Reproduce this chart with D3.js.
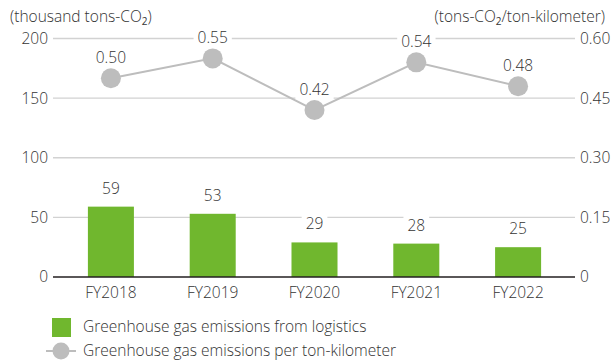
<!DOCTYPE html>
<html>
<head>
<meta charset="utf-8">
<script src="https://cdn.jsdelivr.net/npm/d3@7"></script>
<style>
  html, body { margin: 0; padding: 0; background: #fff; }
  svg { display: block; }
  text { font-family: "Open Sans", "Noto Sans", sans-serif; font-weight: 300; fill: #333; }
</style>
</head>
<body>
<svg id="chart" width="611" height="361"></svg>
<script>
// Fiscal years and the two series
const years = ["FY2018", "FY2019", "FY2020", "FY2021", "FY2022"];
const emissions = [59, 53, 29, 28, 25];            // thousand tons-CO2
const perTonKm = [0.50, 0.55, 0.42, 0.54, 0.48];    // tons-CO2 / ton-kilometer
const leftTicks = [0, 50, 100, 150, 200];
const rightTicks = [0, 0.15, 0.30, 0.45, 0.60];
const rightTickLabels = ["0", "0.15", "0.30", "0.45", "0.60"];
const legendLabels = ["Greenhouse gas emissions from logistics", "Greenhouse gas emissions per ton-kilometer"];

const barColor = "#70b72e";
const lineColor = "#bdbdbd";
const gridColor = "#d2d2d2";
const textColor = "#333";
const fontSize = "15.5px";

const svg = d3.select("#chart");
const plotLeft = 53, plotRight = 575, plotTop = 38.5, plotBottom = 277;

const x = d3.scaleBand().domain(years).range([60, 569])
  .paddingInner(0.548).paddingOuter(0.274);
const yL = d3.scaleLinear().domain([0, 200]).range([plotBottom, plotTop]);
const yR = d3.scaleLinear().domain([0, 0.60]).range([plotBottom, plotTop]);

function styleTicks(g) {
  g.select(".domain").remove();
  g.selectAll("text").style("font-size", fontSize).attr("fill", textColor)
    .style("font-family", "\"Open Sans\", sans-serif").style("font-weight", 300);
}

// gridlines
svg.append("g").selectAll("line").data(leftTicks.filter(d => d > 0)).join("line")
  .attr("x1", plotLeft).attr("x2", plotRight)
  .attr("y1", d => yL(d)).attr("y2", d => yL(d))
  .attr("stroke", gridColor).attr("stroke-width", 1.3);

// left axis labels
svg.append("g").attr("transform", `translate(${plotLeft},0)`)
  .call(d3.axisLeft(yL).tickValues(leftTicks).tickSize(0).tickPadding(5).tickFormat(d3.format("d")))
  .call(styleTicks);

// right axis labels
svg.append("g").attr("transform", `translate(${plotRight},0)`)
  .call(d3.axisRight(yR).tickValues(rightTicks).tickSize(0).tickPadding(5)
    .tickFormat((d, i) => rightTickLabels[i]))
  .call(styleTicks);

// axis titles
function titleWithSub(parent, xPos, anchor, before, after) {
  const t = parent.append("text").attr("x", xPos).attr("y", 22)
    .attr("text-anchor", anchor).style("font-size", fontSize).attr("fill", textColor);
  t.append("tspan").text(before);
  t.append("tspan").text("2").style("font-size", "10px").style("font-weight", 400).attr("dy", 3);
  t.append("tspan").text(after).attr("dy", -3);
  return t;
}
titleWithSub(svg, 10, "start", "(thousand tons-CO", ")");
titleWithSub(svg, 605, "end", "(tons-CO", "/ton-kilometer)");

// bars
svg.append("g").selectAll("rect").data(emissions).join("rect")
  .attr("x", (d, i) => x(years[i]))
  .attr("width", x.bandwidth())
  .attr("y", d => yL(d))
  .attr("height", d => yL(0) - yL(d))
  .attr("fill", barColor);

// baseline
svg.append("line").attr("x1", plotLeft).attr("x2", plotRight)
  .attr("y1", plotBottom).attr("y2", plotBottom)
  .attr("stroke", "#231f20").attr("stroke-width", 1.5);

// x labels
svg.append("g").attr("transform", `translate(0,${plotBottom})`)
  .call(d3.axisBottom(x).tickSize(0).tickPadding(10))
  .call(styleTicks);

// labels with a white backing box
function boxedLabel(g, cx, baseline, str) {
  const grp = g.append("g");
  const rect = grp.append("rect").attr("fill", "#fff");
  const t = grp.append("text").attr("x", cx).attr("y", baseline)
    .attr("text-anchor", "middle").style("font-size", fontSize).attr("fill", textColor).text(str);
  const bb = t.node().getBBox();
  rect.attr("x", bb.x - 4).attr("y", bb.y + 1).attr("width", bb.width + 8).attr("height", bb.height - 2);
}

const barLabels = svg.append("g");
emissions.forEach((v, i) => {
  boxedLabel(barLabels, x(years[i]) + x.bandwidth() / 2, yL(v) - 13, String(v));
});

// intensity line
const cx = d => x(d) + x.bandwidth() / 2;
const line = d3.line().x((d, i) => cx(years[i])).y(d => yR(d));
svg.append("path").datum(perTonKm).attr("d", line)
  .attr("fill", "none").attr("stroke", lineColor).attr("stroke-width", 2);
svg.append("g").selectAll("circle").data(perTonKm).join("circle")
  .attr("cx", (d, i) => cx(years[i])).attr("cy", d => yR(d)).attr("r", 10)
  .attr("fill", lineColor);

const lineLabels = svg.append("g");
perTonKm.forEach((v, i) => {
  boxedLabel(lineLabels, cx(years[i]), yR(v) - 15, d3.format(".2f")(v));
});

// legend
const legend = svg.append("g");
legend.append("rect").attr("x", 52).attr("y", 318).attr("width", 19).attr("height", 19).attr("fill", barColor);
legend.append("text").attr("x", 83).attr("y", 332).style("font-size", fontSize).attr("fill", textColor).text(legendLabels[0]);
legend.append("line").attr("x1", 46).attr("x2", 76).attr("y1", 351).attr("y2", 351)
  .attr("stroke", lineColor).attr("stroke-width", 2);
legend.append("circle").attr("cx", 61).attr("cy", 351).attr("r", 8.5).attr("fill", lineColor);
legend.append("text").attr("x", 83).attr("y", 356).style("font-size", fontSize).attr("fill", textColor).text(legendLabels[1]);
</script>
</body>
</html>
